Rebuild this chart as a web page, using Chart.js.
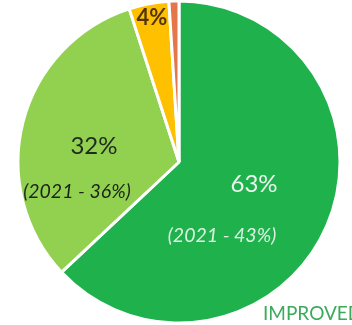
<!DOCTYPE html>
<html>
<head>
<meta charset="utf-8">
<script src="https://cdn.jsdelivr.net/npm/chart.js@4/dist/chart.umd.min.js"></script>
<style>
  html, body { margin: 0; padding: 0; background: #ffffff; }
  #wrap { width: 352px; height: 325px; position: relative; }
</style>
</head>
<body>
<div id="wrap"><canvas id="c" width="352" height="325"></canvas></div>
<script>
// Data
const categories = ["Improved", "Same", "Worse", "Much worse"];
const values2022 = [63, 32, 4, 1];
const values2021Text = ["(2021 - 43%)", "(2021 - 36%)", null, null];
const valueLabels = ["63%", "32%", "4%", null];
const sliceColors = ["#1FB14C", "#92D050", "#FFC000", "#E5764A"];

// Label placement (fractions of radius from pie center) and styles
const labelStyle = [
  { main: { fx: 0.466, fy: 0.137, color: "#E9F6EC" }, sub: { fx: 0.267, fy: 0.46, color: "#DDF1E2" } },
  { main: { fx: -0.528, fy: -0.099, color: "#1F2B1F" }, sub: { fx: -0.634, fy: 0.186, color: "#1A241A" } },
  { main: { fx: -0.168, fy: -0.892, color: "#533608", bold: true }, sub: null },
  { main: null, sub: null }
];

const labelPlugin = {
  id: "sliceLabels",
  afterDatasetsDraw(chart) {
    const ctx = chart.ctx;
    const meta = chart.getDatasetMeta(0);
    ctx.save();
    ctx.textAlign = "center";
    ctx.textBaseline = "middle";
    meta.data.forEach((arc, i) => {
      const st = labelStyle[i];
      const R = arc.outerRadius;
      if (st.main && valueLabels[i]) {
        ctx.font = (st.main.bold ? "bold 22px " : "24px ") + "Lato, 'Open Sans', sans-serif";
        ctx.fillStyle = st.main.color;
        ctx.fillText(valueLabels[i], arc.x + st.main.fx * R, arc.y + st.main.fy * R);
      }
      if (st.sub && values2021Text[i]) {
        ctx.font = "italic 19.5px Lato, 'Open Sans', sans-serif";
        ctx.fillStyle = st.sub.color;
        ctx.fillText(values2021Text[i], arc.x + st.sub.fx * R, arc.y + st.sub.fy * R);
      }
    });
    // cropped legend text at bottom right
    ctx.textAlign = "left";
    ctx.textBaseline = "alphabetic";
    ctx.font = "19px Lato, 'Open Sans', sans-serif";
    ctx.fillStyle = "#3BAA5A";
    ctx.fillText("IMPROVED", 263, 320);
    ctx.restore();
  }
};

new Chart(document.getElementById("c"), {
  type: "pie",
  data: {
    labels: categories,
    datasets: [{
      data: values2022,
      backgroundColor: sliceColors,
      borderColor: "#ffffff",
      borderWidth: 3,
      hoverOffset: 0
    }]
  },
  options: {
    responsive: false,
    animation: false,
    radius: 161,
    layout: { padding: { left: 18, right: 12, top: 0, bottom: 1 } },
    plugins: {
      legend: { display: false },
      tooltip: { enabled: false },
      title: { display: false }
    },
    events: []
  },
  plugins: [labelPlugin]
});
</script>
</body>
</html>
